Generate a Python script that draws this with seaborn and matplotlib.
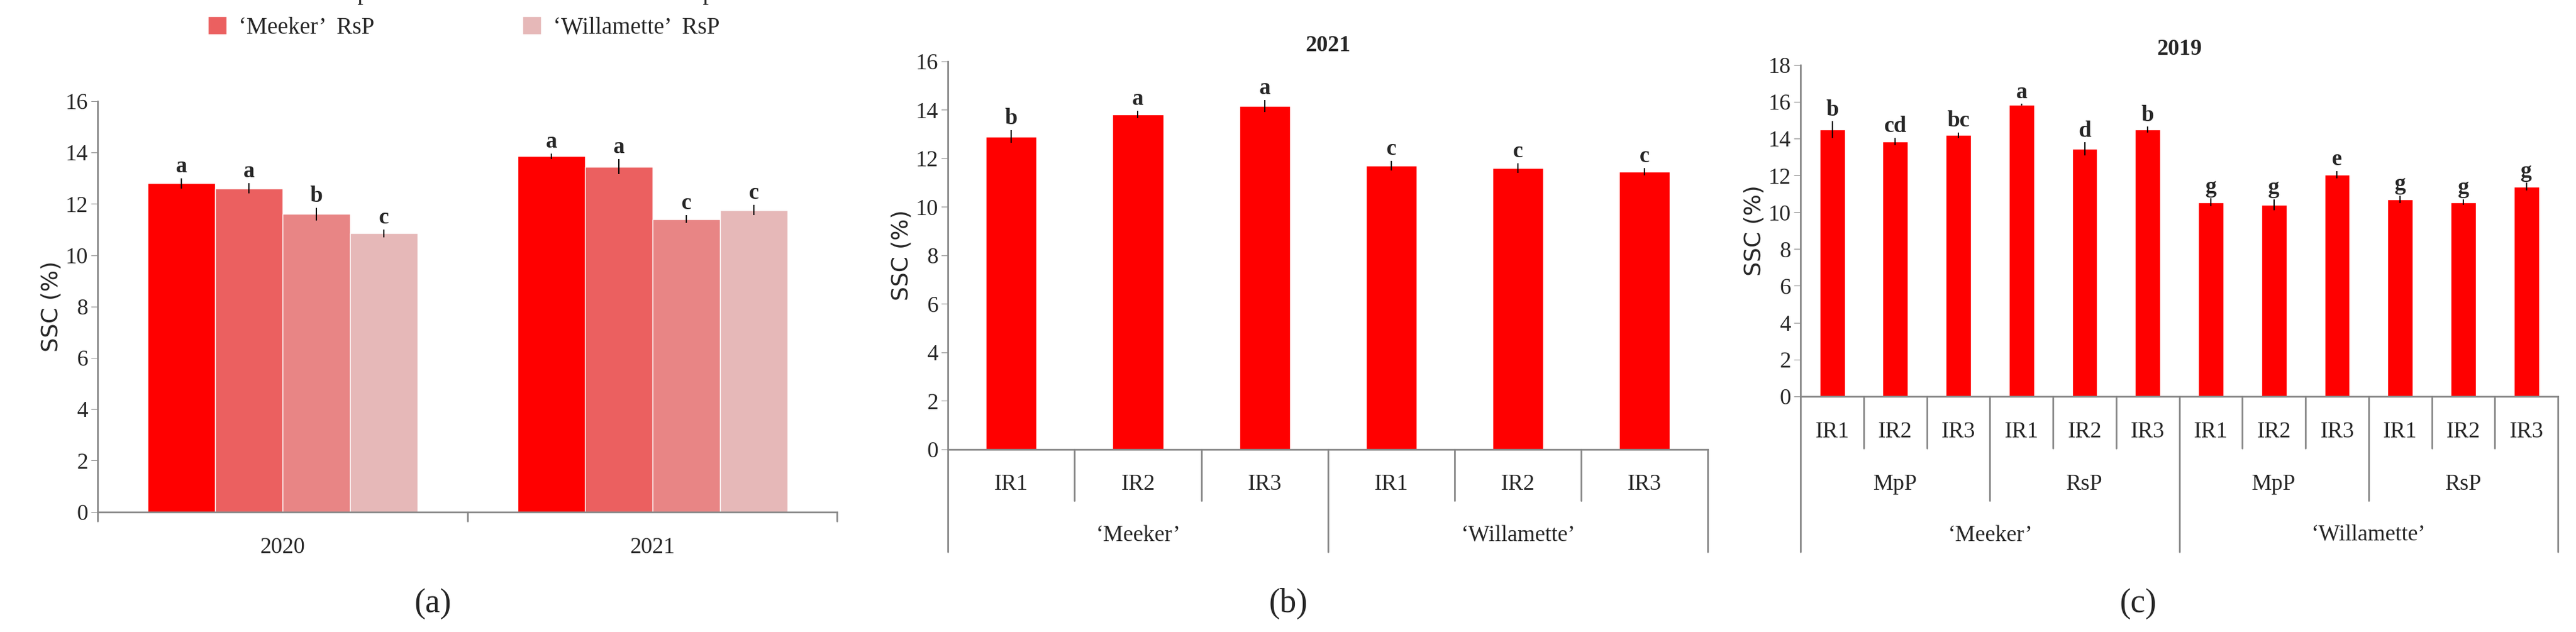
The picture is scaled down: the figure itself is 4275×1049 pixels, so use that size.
import numpy as np
import pandas as pd
import matplotlib
matplotlib.use('Agg')
import matplotlib.pyplot as plt
import seaborn as sns

sns.set_style('white')
plt.rcParams['font.family'] = ['Liberation Serif', 'DejaVu Serif']

# panel (a)
years = ['2020', '2021']
groups = ["\u2018Meeker\u2019  MpP", "\u2018Meeker\u2019  RsP", "\u2018Willamette\u2019  MpP", "\u2018Willamette\u2019  RsP"]
a_vals = [[12.8, 12.6, 11.6, 10.85], [13.85, 13.45, 11.4, 11.75]]
a_err = [[0.2, 0.2, 0.25, 0.15], [0.1, 0.3, 0.15, 0.2]]
a_let = [['a', 'a', 'b', 'c'], ['a', 'a', 'c', 'c']]
a_colors = ['#FF0000', '#EB6060', '#E88585', '#E6B8B8']

# panel (b)
b_ir = ['IR1', 'IR2', 'IR3', 'IR1', 'IR2', 'IR3']
b_var = ["\u2018Meeker\u2019", "\u2018Willamette\u2019"]
b_vals = [12.9, 13.8, 14.15, 11.7, 11.6, 11.45]
b_err = [0.25, 0.15, 0.25, 0.2, 0.2, 0.15]
b_let = ['b', 'a', 'a', 'c', 'c', 'c']

# panel (c)
c_ir = ['IR1', 'IR2', 'IR3'] * 4
c_sys = ['MpP', 'RsP', 'MpP', 'RsP']
c_vals = [14.5, 13.85, 14.2, 15.85, 13.45, 14.5, 10.55, 10.4, 12.05, 10.7, 10.55, 11.4]
c_err = [0.45, 0.2, 0.15, 0.05, 0.35, 0.15, 0.2, 0.3, 0.2, 0.2, 0.15, 0.2]
c_let = ['b', 'cd', 'bc', 'a', 'd', 'b', 'g', 'g', 'e', 'g', 'g', 'g']

FS = 27
GRAY = '#888888'

fig = plt.figure(figsize=(42.75, 10.49), dpi=100)
axa = fig.add_axes([0.038, 0.19, 0.287, 0.65])
axb = fig.add_axes([0.368, 0.289, 0.295, 0.614])
axc = fig.add_axes([0.699, 0.373, 0.294, 0.524])


def style(ax, ymax, step):
    ax.set_ylim(0, ymax)
    ax.set_yticks(np.arange(0, ymax + 0.1, step))
    ax.tick_params(axis='y', labelsize=FS, direction='out', length=8, color=GRAY, left=True)
    for s in ['top', 'right']:
        ax.spines[s].set_visible(False)
    for s in ['left', 'bottom']:
        ax.spines[s].set_color(GRAY)
        ax.spines[s].set_linewidth(2)
    ax.set_ylabel('SSC (%)', fontsize=FS, family=['DejaVu Sans'])
    ax.set_xlabel('')


def add_err(ax, bars, vals, errs, lets, off):
    xs = [p.get_x() + p.get_width() / 2 for p in bars]
    ax.errorbar(xs, vals, yerr=errs, fmt='none', ecolor='black', elinewidth=1.5, capsize=0)
    for x, v, e, l in zip(xs, vals, errs, lets):
        ax.text(x, v + e + off, l, ha='center', va='bottom', fontsize=FS, fontweight='bold')


# (a)
dfa = pd.DataFrame([(y, g, a_vals[i][j]) for i, y in enumerate(years) for j, g in enumerate(groups)],
                   columns=['year', 'group', 'ssc'])
sns.barplot(data=dfa, x='year', y='ssc', hue='group', palette=a_colors, width=0.73,
            errorbar=None, ax=axa, saturation=1)
bars = [list(cont) for cont in axa.containers]
flat = [bars[j][i] for i in range(2) for j in range(4)]
add_err(axa, flat, sum(a_vals, []), sum(a_err, []), sum(a_let, []), 0.05)
style(axa, 16, 2)
axa.set_xlim(-0.5, 1.5)
axa.tick_params(axis='x', labelsize=FS, length=0, pad=30)
for x in [-0.5, 0.5, 1.5]:
    axa.plot([x, x], [0, -0.35], color=GRAY, lw=2, clip_on=False)
axa.legend(loc='lower center', bbox_to_anchor=(0.5, 1.1), ncol=2, frameon=False,
           fontsize=FS + 1, handlelength=0.8, handleheight=0.8, handletextpad=0.5,
           columnspacing=6, labelspacing=0.5)

# (b)
dfb = pd.DataFrame({'pos': range(6), 'ssc': b_vals})
sns.barplot(data=dfb, x='pos', y='ssc', color='#FF0000', width=0.4, errorbar=None, ax=axb, saturation=1)
add_err(axb, list(axb.containers[0]), b_vals, b_err, b_let, 0.05)
style(axb, 16, 2)
axb.set_xlim(-0.5, 5.5)
axb.set_xticks([])
trb = axb.get_xaxis_transform()
for i, t in enumerate(b_ir):
    axb.text(i, -0.09, t, transform=trb, ha='center', va='center', fontsize=FS)
for x in np.arange(-0.5, 6, 1):
    bot = -0.264 if x in (-0.5, 2.5, 5.5) else -0.132
    axb.plot([x, x], [0, bot], transform=trb, color=GRAY, lw=2, clip_on=False)
for i, v in enumerate(b_var):
    axb.text(1 + 3 * i, -0.222, v, transform=trb, ha='center', va='center', fontsize=FS)
axb.set_title('2021', fontsize=FS, fontweight='bold', pad=12)

# (c)
dfc = pd.DataFrame({'pos': range(12), 'ssc': c_vals})
sns.barplot(data=dfc, x='pos', y='ssc', color='#FF0000', width=0.4, errorbar=None, ax=axc, saturation=1)
add_err(axc, list(axc.containers[0]), c_vals, c_err, c_let, 0.05)
style(axc, 18, 2)
axc.set_xlim(-0.5, 11.5)
axc.set_xticks([])
trc = axc.get_xaxis_transform()
for i, t in enumerate(c_ir):
    axc.text(i, -0.107, t, transform=trc, ha='center', va='center', fontsize=FS)
for x in np.arange(-0.5, 12, 1):
    if x in (-0.5, 5.5, 11.5):
        bot = -0.47
    elif x in (2.5, 8.5):
        bot = -0.315
    else:
        bot = -0.157
    axc.plot([x, x], [0, bot], transform=trc, color=GRAY, lw=2, clip_on=False)
for i, s in enumerate(c_sys):
    axc.text(1 + 3 * i, -0.265, s, transform=trc, ha='center', va='center', fontsize=FS)
for i, v in enumerate(b_var):
    axc.text(2.5 + 6 * i, -0.42, v, transform=trc, ha='center', va='center', fontsize=FS)
axc.set_title('2019', fontsize=FS, fontweight='bold', pad=12)

for x, l in [(0.168, '(a)'), (0.5, '(b)'), (0.83, '(c)')]:
    fig.text(x, 0.045, l, ha='center', va='center', fontsize=40)

fig.savefig('out.png', dpi=100, facecolor='white')
